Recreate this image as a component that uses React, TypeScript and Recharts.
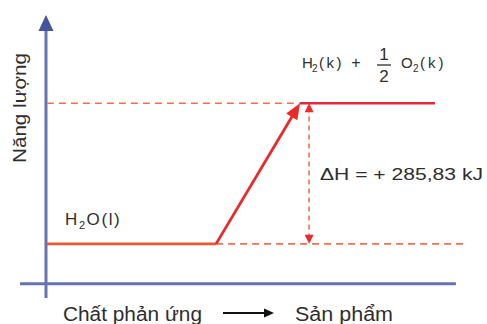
import React from 'react';
import { ComposedChart, XAxis, YAxis, Line, ReferenceLine, Customized } from 'recharts';

// Energy levels (kJ): reactant H2O(l), products H2(k) + 1/2 O2(k)
const energyLevels = [0, 285.83];
const levelNames = ['H₂O(l)', 'H₂(k) + ½ O₂(k)'];
const deltaHText = 'ΔH = + 285,83 kJ';
const axisTitles = ['Năng lượng', 'Chất phản ứng', 'Sản phẩm'];

// Reaction progress (0..100) spans
const reactantSpan = [5.9, 43.0];
const productSpan = [61.4, 91.0];
const lowerGuideEnd = [98.0];
const upperGuideStart = [5.9];
const deltaHAt = [63.4];
// axes: x-axis spans progress [0, 95.6] at energy -81; y-axis at progress 5.7 spans energy [-110, 465]
const xAxisSpan = [0, 95.6];
const xAxisEnergy = [-81];
const yAxisAt = [5.7];
const yAxisSpan = [-110, 465];

const W = 487;
const H = 324;
const FONT = '"Liberation Sans", Arial, sans-serif';
const TEXT = '#2e2e2e';

const reactantData = reactantSpan.map((x) => ({ x, e: energyLevels[0] }));
const productData = productSpan.map((x) => ({ x, e: energyLevels[1] }));

type Pt = { x: number; y: number };
const head = (tip: Pt, from: Pt, len: number, half: number) => {
  const dx = tip.x - from.x;
  const dy = tip.y - from.y;
  const d = Math.hypot(dx, dy) || 1;
  const ux = dx / d;
  const uy = dy / d;
  const bx = tip.x - ux * len;
  const by = tip.y - uy * len;
  return `${tip.x},${tip.y} ${bx - uy * half},${by + ux * half} ${bx + uy * half},${by - ux * half}`;
};

const arrowShape =
  (opts: { endHead?: [number, number, string]; startHead?: [number, number, string] }) =>
  (p: any) => {
    const a = { x: p.x1, y: p.y1 };
    const b = { x: p.x2, y: p.y2 };
    const els: any[] = [];
    let bb = b;
    let aa = a;
    const d = Math.hypot(b.x - a.x, b.y - a.y) || 1;
    if (opts.endHead) {
      const s = opts.endHead[0] * 0.6;
      bb = { x: b.x - ((b.x - a.x) / d) * s, y: b.y - ((b.y - a.y) / d) * s };
    }
    if (opts.startHead) {
      const s = opts.startHead[0] * 0.6;
      aa = { x: a.x + ((b.x - a.x) / d) * s, y: a.y + ((b.y - a.y) / d) * s };
    }
    els.push(
      <line
        key="l"
        x1={aa.x}
        y1={aa.y}
        x2={bb.x}
        y2={bb.y}
        stroke={p.stroke}
        strokeWidth={p.strokeWidth}
        strokeDasharray={p.strokeDasharray}
      />
    );
    if (opts.endHead) {
      els.push(<polygon key="e" points={head(b, a, opts.endHead[0], opts.endHead[1])} fill={opts.endHead[2]} />);
    }
    if (opts.startHead) {
      els.push(<polygon key="s" points={head(a, b, opts.startHead[0], opts.startHead[1])} fill={opts.startHead[2]} />);
    }
    return <g>{els}</g>;
  };

const Labels = () => (
  <g fontFamily={FONT} fill={TEXT}>
    {/* y-axis title */}
    <text
      x={0}
      y={0}
      transform="translate(26,108) rotate(-90)"
      textAnchor="middle"
      fontSize={19}
      textLength={110}
      lengthAdjust="spacingAndGlyphs"
    >
      {axisTitles[0]}
    </text>
    {/* bottom titles */}
    <text x={63} y={321} fontSize={20} textLength={139} lengthAdjust="spacingAndGlyphs">
      {axisTitles[1]}
    </text>
    <line x1={223} y1={313} x2={266} y2={313} stroke="#111" strokeWidth={2} />
    <polygon points="274,313 264,308.5 264,317.5" fill="#111" />
    <text x={295} y={321} fontSize={20} textLength={98} lengthAdjust="spacingAndGlyphs">
      {axisTitles[2]}
    </text>
    {/* reactant label */}
    <text x={65} y={225} fontSize={17} letterSpacing={1.6}>
      <tspan>{levelNames[0].slice(0, 1)}</tspan>
      <tspan fontSize={11} dy={4}>
        2
      </tspan>
      <tspan dy={-4}>{levelNames[0].slice(2)}</tspan>
    </text>
    {/* product label */}
    <text x={302} y={68} fontSize={15}>H</text>
    <text x={312} y={72} fontSize={10}>2</text>
    <text x={319} y={68} fontSize={15} letterSpacing={2.5}>(k)</text>
    <text x={356} y={68} fontSize={16} textAnchor="middle">+</text>
    <text x={384} y={60} fontSize={17} textAnchor="middle">1</text>
    <line x1={377} y1={65} x2={391} y2={65} stroke={TEXT} strokeWidth={1.3} />
    <text x={384} y={82} fontSize={17} textAnchor="middle">2</text>
    <text x={401} y={68} fontSize={15}>O</text>
    <text x={413} y={72} fontSize={10}>2</text>
    <text x={420} y={68} fontSize={15} letterSpacing={3}>(k)</text>
    {/* delta H */}
    <text x={320} y={180} fontSize={17} textLength={163} lengthAdjust="spacingAndGlyphs">
      {deltaHText}
    </text>
  </g>
);

export default function App() {
  const axisColor = '#6673b3';
  const guide = '#f2704f';
  return (
    <div style={{ position: 'absolute', left: 0, top: 0, width: W, height: H, background: '#fff' }}>
      <ComposedChart width={W} height={H} margin={{ top: 15, right: 11, bottom: 26, left: 20 }}>
        <XAxis type="number" dataKey="x" domain={[0, 100]} hide allowDataOverflow />
        <YAxis type="number" dataKey="e" domain={[yAxisSpan[0], yAxisSpan[1]]} hide allowDataOverflow />

        {/* axes */}
        <ReferenceLine
          ifOverflow="visible"
          segment={[
            { x: xAxisSpan[0], y: xAxisEnergy[0] },
            { x: xAxisSpan[1], y: xAxisEnergy[0] },
          ]}
          stroke={axisColor}
          strokeWidth={3}
        />
        <ReferenceLine
          ifOverflow="visible"
          segment={[
            { x: yAxisAt[0], y: yAxisSpan[0] },
            { x: yAxisAt[0], y: yAxisSpan[1] },
          ]}
          stroke={axisColor}
          strokeWidth={3}
          shape={arrowShape({ endHead: [16, 7.5, '#44549e'] })}
        />

        {/* dashed guides */}
        <ReferenceLine
          ifOverflow="visible"
          segment={[
            { x: reactantSpan[1], y: energyLevels[0] },
            { x: lowerGuideEnd[0], y: energyLevels[0] },
          ]}
          stroke={guide}
          strokeWidth={1.6}
          strokeDasharray="7 5"
        />
        <ReferenceLine
          ifOverflow="visible"
          segment={[
            { x: upperGuideStart[0], y: energyLevels[1] },
            { x: productSpan[0], y: energyLevels[1] },
          ]}
          stroke={guide}
          strokeWidth={1.6}
          strokeDasharray="7 5"
        />
        <ReferenceLine
          ifOverflow="visible"
          segment={[
            { x: deltaHAt[0], y: energyLevels[0] },
            { x: deltaHAt[0], y: energyLevels[1] },
          ]}
          stroke={guide}
          strokeWidth={1.6}
          strokeDasharray="5 4"
          shape={arrowShape({ endHead: [9, 4.5, '#ee2a2a'], startHead: [9, 4.5, '#ee2a2a'] })}
        />

        {/* levels */}
        <Line
          data={reactantData}
          dataKey="e"
          stroke="#ef5634"
          strokeWidth={2.6}
          dot={false}
          isAnimationActive={false}
        />
        <Line
          data={productData}
          dataKey="e"
          stroke="#e8283a"
          strokeWidth={2.6}
          dot={false}
          isAnimationActive={false}
        />

        {/* reaction arrow */}
        <ReferenceLine
          ifOverflow="visible"
          segment={[
            { x: reactantSpan[1], y: energyLevels[0] },
            { x: productSpan[0], y: energyLevels[1] },
          ]}
          stroke="#ea2a2a"
          strokeWidth={2.8}
          shape={arrowShape({ endHead: [16, 6.5, '#ea2a2a'] })}
        />

        <Customized component={<Labels />} />
      </ComposedChart>
    </div>
  );
}
